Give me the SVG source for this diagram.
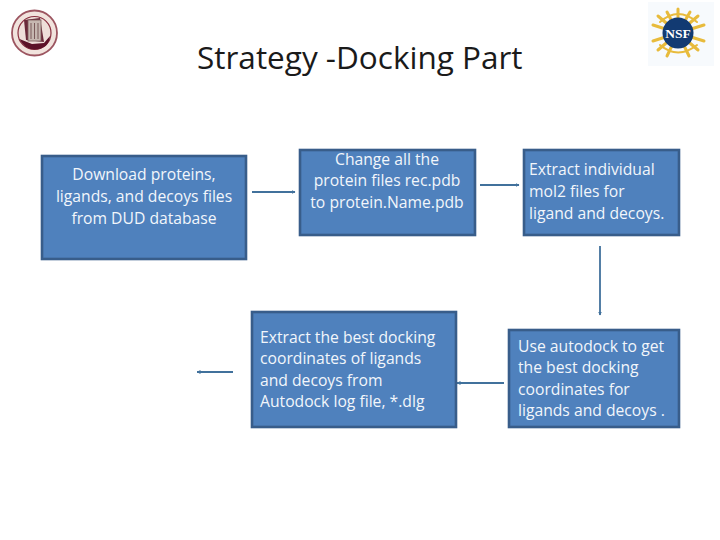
<svg xmlns="http://www.w3.org/2000/svg" width="720" height="540" viewBox="0 0 720 540">
<style>
.box{fill:#4f81bd;stroke:#385d8a;stroke-width:2.6}
.t{font-family:"Open Sans","Liberation Sans",sans-serif;font-size:15.7px;fill:#f2f6fb}
.m{text-anchor:middle}
.c{stroke:#41719c;stroke-width:1.8;fill:none}
.title{font-family:"Open Sans","Liberation Sans",sans-serif;font-size:31.500px;fill:#1a1a1a}
.ray{stroke:#e8bb3c;stroke-width:3;stroke-linecap:round;fill:none}
</style>
<defs>
<marker id="a" markerWidth="4" markerHeight="5" refX="3.500" refY="2.500" orient="auto" markerUnits="userSpaceOnUse"><path d="M0 0.500L4 2.500L0 4.500z" fill="#41719c"/></marker>
</defs>
<rect width="720" height="540" fill="#fff"/>
<g id="logo-left">
<circle cx="34.500" cy="33" r="22.500" fill="#f1e3dd" stroke="#9c5560" stroke-width="1.800"/>
<circle cx="34.500" cy="33" r="16.500" fill="#eedfd9" stroke="#8a3040" stroke-width="1.200"/>
<path d="M19.500 39L32 44L44 43L50 36Q49 49 34.500 49.500Q24 49 19.500 39z" fill="#5c1228"/>
<path d="M24 20L40 18L44 42L26 40z" fill="#6a2a3a"/>
<rect x="28" y="20" width="13" height="21" fill="#c6b7b0" stroke="#7a5a5a" stroke-width="0.800"/>
<path d="M31 23v16M34.500 23v16M38 23v16" stroke="#7a5a5a" stroke-width="1"/>
</g>
<g id="logo-right">
<rect x="648" y="2" width="66" height="64" fill="#f7fafd"/>
<g class="ray">
<path d="M678 33L678 9M678 33L690 12M678 33L698 16M678 33L704 25M678 33L704 41M678 33L698 50M678 33L689 56M678 33L667 56M678 33L658 50M678 33L653 41M678 33L653 25M678 33L658 16M678 33L667 12"/>
<path d="M660 22Q678 6 697 22M660 45Q678 60 697 45" stroke-width="2"/>
</g>
<circle cx="678" cy="33" r="15.500" fill="#123a72"/>
<text x="678" y="38" text-anchor="middle" font-family="Liberation Serif,serif" font-weight="700" font-size="13.500" fill="#fff">NSF</text>
</g>
<text class="title" x="197" y="69">Strategy -Docking Part</text>
<g id="connectors">
<path class="c" d="M252 192H295" marker-end="url(#a)"/>
<path class="c" d="M480 185H519" marker-end="url(#a)"/>
<path class="c" d="M600 246V315" marker-end="url(#a)"/>
<path class="c" d="M504 383H457" marker-end="url(#a)"/>
<path class="c" d="M233 372H197" marker-end="url(#a)"/>
</g>
<g id="n1"><rect class="box" x="42" y="156" width="204" height="103"/>
<text class="t m" x="144" y="180">Download proteins,</text><text class="t m" x="144" y="202">ligands, and decoys files</text><text class="t m" x="144" y="224">from DUD database</text></g>
<g id="n2"><rect class="box" x="300" y="150" width="175" height="85"/>
<text class="t m" x="387" y="165">Change all the</text><text class="t m" x="387" y="186">protein files rec.pdb</text><text class="t m" x="387" y="208">to protein.Name.pdb</text></g>
<g id="n3"><rect class="box" x="524" y="150" width="155" height="85"/>
<text class="t" x="529" y="175">Extract individual</text><text class="t" x="529" y="197">mol2 files for</text><text class="t" x="529" y="219">ligand and decoys.</text></g>
<g id="n4"><rect class="box" x="509" y="330" width="170" height="97"/>
<text class="t" x="518" y="352">Use autodock to get</text><text class="t" x="518" y="373">the best docking</text><text class="t" x="518" y="395">coordinates for</text><text class="t" x="518" y="416">ligands and decoys .</text></g>
<g id="n5"><rect class="box" x="252" y="312" width="204" height="115"/>
<text class="t" x="260" y="343">Extract the best docking</text><text class="t" x="260" y="364">coordinates of ligands</text><text class="t" x="260" y="386">and decoys from</text><text class="t" x="260" y="407">Autodock log file, *.dlg</text></g>
</svg>
